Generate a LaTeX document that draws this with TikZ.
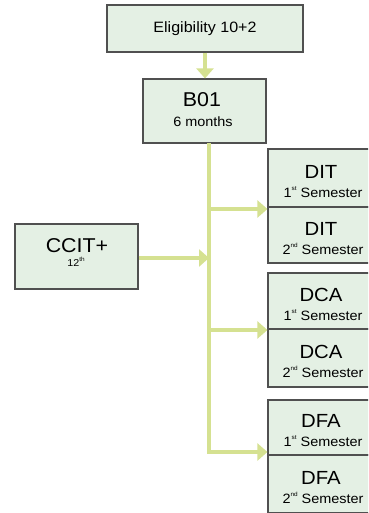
\documentclass[tikz,border=0pt]{standalone}
\usepackage{fontspec}
\setmainfont[FakeStretch=1.07]{Liberation Sans}
\usetikzlibrary{arrows.meta}
\definecolor{boxfill}{RGB}{228,240,228}
\definecolor{boxline}{RGB}{80,80,80}
\definecolor{arrowc}{RGB}{213,225,145}
\newcommand{\supsm}[1]{\raisebox{0.45em}{\fontsize{6}{7}\selectfont #1}}
\tikzset{
  box/.style={draw=boxline, fill=boxfill, line width=1.2pt, inner sep=0pt},
  conn/.style={draw=arrowc, line width=4pt, -{Triangle[width=17pt,length=10pt]}},
  lbl/.style={inner sep=0pt, anchor=base, text=black},
  big/.style={font=\fontsize{20}{22}\selectfont},
  sem/.style={font=\fontsize{19}{21}\selectfont},
  mid/.style={font=\fontsize{15}{17}\selectfont},
  small/.style={font=\fontsize{13.5}{15}\selectfont},
  semsmall/.style={font=\fontsize{13.5}{15}\selectfont},
  tiny/.style={font=\fontsize{10}{12}\selectfont},
}
\begin{document}
\begin{tikzpicture}[x=1pt,y=-1pt]
\useasboundingbox (0,0) rectangle (368,513);
\clip (0,0) rectangle (368,513);
% boxes
\node[box, minimum width=196pt, minimum height=47pt] (top) at (205,28.5) {};
\node[box, minimum width=123pt, minimum height=64pt] (b01) at (204.5,111) {};
\node[box, minimum width=123pt, minimum height=65pt] (ccit) at (76.5,256.5) {};
\node[box, minimum width=108pt, minimum height=58pt] (dit1) at (322,178) {};
\node[box, minimum width=108pt, minimum height=56pt] (dit2) at (322,235) {};
\node[box, minimum width=108pt, minimum height=56pt] (dca1) at (322,301) {};
\node[box, minimum width=108pt, minimum height=58pt] (dca2) at (322,358) {};
\node[box, minimum width=108pt, minimum height=55pt] (dfa1) at (322,427.5) {};
\node[box, minimum width=108pt, minimum height=58pt] (dfa2) at (322,484) {};
% labels
\node[lbl, mid] (topt) at (205,33) {Eligibility 10+2};
\node[lbl, big] (b01t) at (202,107) {B01};
\node[lbl, small] (b01s) at (203,127) {6 months};
\node[lbl, big] (ccitt) at (77,252) {CCIT+};
\node[lbl, tiny] (ccits) at (76,266) {12\supsm{th}};
\node[lbl, sem] (dit1t) at (321,178) {DIT};
\node[lbl, semsmall] (dit1s) at (323,197) {1\supsm{st} Semester};
\node[lbl, sem] (dit2t) at (321,235) {DIT};
\node[lbl, semsmall] (dit2s) at (323,254) {2\supsm{nd} Semester};
\node[lbl, sem] (dca1t) at (321,301) {DCA};
\node[lbl, semsmall] (dca1s) at (323,320) {1\supsm{st} Semester};
\node[lbl, sem] (dca2t) at (321,358) {DCA};
\node[lbl, semsmall] (dca2s) at (323,377) {2\supsm{nd} Semester};
\node[lbl, sem] (dfa1t) at (321,427) {DFA};
\node[lbl, semsmall] (dfa1s) at (323,446) {1\supsm{st} Semester};
\node[lbl, sem] (dfa2t) at (321,484) {DFA};
\node[lbl, semsmall] (dfa2s) at (323,503) {2\supsm{nd} Semester};
% connectors
\coordinate (trunk) at (209,143);
\coordinate (j1) at (209,209);
\coordinate (j2) at (209,330);
\coordinate (j3) at (209,452);
\coordinate (jc) at (209,258);
\draw[conn] (top.south) -- (top.south |- b01.north);
\draw[draw=arrowc, line width=4pt] (trunk) -- (j3);
\draw[conn] (j1) -- (j1 -| dit1.west);
\draw[conn] (j2) -- (j2 -| dca1.west);
\draw[conn] ([xshift=-2pt]j3) -- (j3 -| dfa1.west);
\draw[conn] (ccit.east |- jc) -- (jc);
\end{tikzpicture}
\end{document}
